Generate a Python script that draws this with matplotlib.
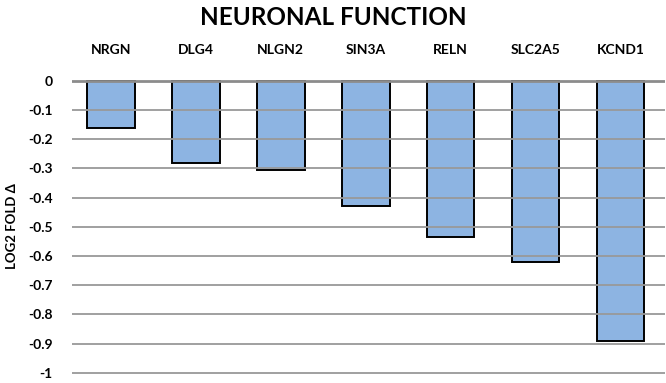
import matplotlib
matplotlib.use("Agg")
from matplotlib import pyplot as plt

genes = ['NRGN', 'DLG4', 'NLGN2', 'SIN3A', 'RELN', 'SLC2A5', 'KCND1']
fold = [-0.16, -0.28, -0.305, -0.43, -0.535, -0.62, -0.89]
yticks = [0, -0.1, -0.2, -0.3, -0.4, -0.5, -0.6, -0.7, -0.8, -0.9, -1]

plt.rcParams['font.family'] = ['Lato', 'DejaVu Sans']

fig = plt.figure(figsize=(6.66, 3.83), dpi=100)
ax = fig.add_axes([0.108, 0.022, 0.89, 0.77])

x = list(range(len(genes)))
ax.bar(x, fold, width=0.56, color='#8DB4E2', edgecolor='black', linewidth=1.4, zorder=2)

ax.set_ylim(-1.006, 0.004)
ax.set_xlim(-0.46, 6.52)
ax.set_yticks(yticks)
ax.set_yticklabels([f'{t:g}' for t in yticks], fontsize=10, fontweight='bold')
ax.set_xticks(x)
ax.set_xticklabels(genes, fontsize=10, fontweight='bold')
ax.xaxis.tick_top()
ax.tick_params(axis='x', length=0, pad=17)
ax.tick_params(axis='y', length=0, pad=14)

for s in ax.spines.values():
    s.set_visible(False)
# gridlines sit on top of the bars in the original
for t in yticks[1:]:
    ax.axhline(t, color='#999999', linewidth=1.3, zorder=3)
ax.axhline(0, color='#8c8c8c', linewidth=2, zorder=4)

fig.text(0.5, 0.955, 'NEURONAL FUNCTION', ha='center', va='center', fontsize=17.5, fontweight='bold')
fig.text(0.018, 0.41, 'LOG2 FOLD Δ', rotation=90, ha='center', va='center', fontsize=9.5, fontweight='bold')

fig.savefig('out.png', dpi=100)
